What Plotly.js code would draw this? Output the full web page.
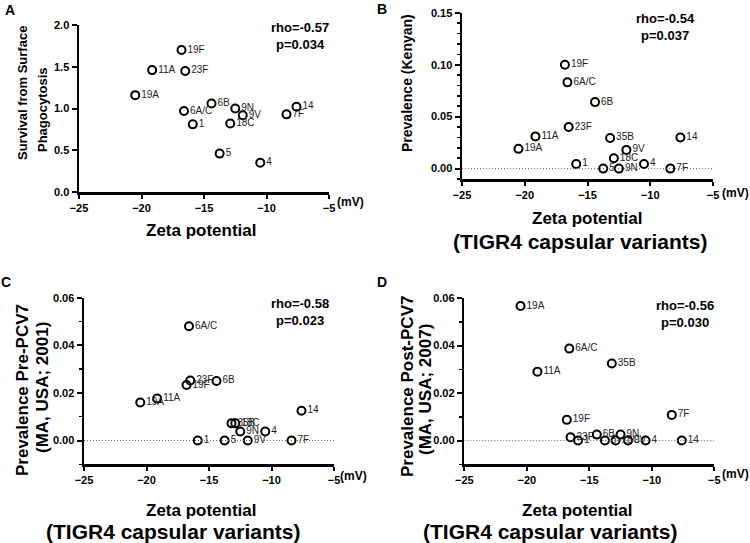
<!DOCTYPE html>
<html>
<head>
<meta charset="utf-8">
<script src="https://cdn.plot.ly/plotly-3.0.1.min.js"></script>
<style>
  body { margin: 0; background: #fff; }
  #chart { width: 750px; height: 543px; }
</style>
</head>
<body>
<div id="chart"></div>
<script>
// serotypes and their zeta potential (mV), same for all panels
const serotypes = ['1', '4', '5', '6A/C', '6B', '7F', '9N', '9V', '11A', '14', '18C', '19A', '19F', '23F', '35B'];
const zeta = [-15.9, -10.5, -13.75, -16.6, -14.4, -8.4, -12.5, -11.9, -19.15, -7.6, -12.9, -20.5, -16.8, -16.5, -13.2];

// panel values, aligned with serotypes (null = not shown)
const survival = [0.81, 0.35, 0.46, 0.97, 1.06, 0.93, 1.0, 0.92, 1.46, 1.02, 0.82, 1.16, 1.70, 1.45, null];
const kenyan = [0.0045, 0.0045, 0, 0.083, 0.064, 0, 0, 0.018, 0.031, 0.030, 0.010, 0.019, 0.100, 0.040, 0.0295];
const prePCV7 = [0, 0.0038, 0, 0.048, 0.025, 0, 0.0038, 0, 0.0176, 0.0125, 0.0072, 0.016, 0.0233, 0.0252, 0.0072];
const postPCV7 = [0, 0, 0, 0.0387, 0.0025, 0.0108, 0.0025, 0, 0.029, 0, 0, 0.0566, 0.0087, 0.0014, 0.0324];

const rhoTexts = ['rho=-0.57<br>p=0.034', 'rho=-0.54<br>p=0.037', 'rho=-0.58<br>p=0.023', 'rho=-0.56<br>p=0.030'];

const FONT = 'Liberation Sans, Arial, sans-serif';
const W = 750, H = 543;
const px = v => v / W;
const py = v => 1 - v / H;
const bold = size => ({ family: FONT, size: size, weight: 'bold', color: '#000' });

function makeTrace(values, ax) {
    const x = [], y = [], t = [];
    serotypes.forEach((s, i) => {
        if (values[i] === null) return;
        x.push(zeta[i]);
        y.push(values[i]);
        t.push(s);
    });
    return {
        x: x, y: y, text: t,
        xaxis: 'x' + ax, yaxis: 'y' + ax,
        type: 'scatter',
        mode: 'markers+text',
        textposition: 'middle right',
        textfont: { family: FONT, size: 10, color: '#222' },
        marker: { symbol: 'circle-open', size: 8, color: '#000', line: { width: 2, color: '#000' } },
        cliponaxis: false,
        hoverinfo: 'skip'
    };
}

const data = [
    makeTrace(survival, ''),
    makeTrace(kenyan, '2'),
    makeTrace(prePCV7, '3'),
    makeTrace(postPCV7, '4')
];

function xAxis(domain, anchor) {
    return {
        domain: domain, anchor: anchor,
        range: [-25, -5], dtick: 5, tick0: -25,
        showgrid: false, zeroline: false,
        showline: true, linewidth: 2.5, linecolor: '#000',
        ticks: 'outside', ticklen: 4, tickwidth: 2, tickcolor: '#000',
        tickfont: bold(11)
    };
}

function yAxis(domain, anchor, range, dtick, fmt, minor) {
    const a = {
        domain: domain, anchor: anchor,
        range: range, dtick: dtick, tick0: 0, tickformat: fmt,
        showgrid: false, zeroline: false,
        showline: true, linewidth: 2.5, linecolor: '#000',
        ticks: 'outside', ticklen: 5, tickwidth: 2, tickcolor: '#000',
        tickfont: bold(11)
    };
    if (minor) {
        a.minor = { dtick: minor, ticks: 'outside', ticklen: 3, tickwidth: 1.5, tickcolor: '#000' };
    }
    return a;
}

const dotted = ax => ({
    type: 'line', xref: 'x' + ax, yref: 'y' + ax,
    x0: -25, x1: -5, y0: 0, y1: 0,
    line: { color: '#666', width: 1, dash: '1px,2px' }
});

const ann = (x, y, text, font, opts) => Object.assign({
    xref: 'paper', yref: 'paper', x: px(x), y: py(y), text: text,
    showarrow: false, xanchor: 'center', yanchor: 'middle',
    font: font
}, opts || {});

const rot = { textangle: -90 };
const left = { xanchor: 'left' };

const annotations = [
    // panel letters
    ann(10, 10, 'A', bold(14)),
    ann(382, 9, 'B', bold(14)),
    ann(6, 282, 'C', bold(14)),
    ann(382, 282, 'D', bold(14)),
    // correlation text
    ann(300, 36, rhoTexts[0], bold(13)),
    ann(665, 27, rhoTexts[1], bold(13)),
    ann(300, 312, rhoTexts[2], bold(13)),
    ann(685, 314, rhoTexts[3], bold(13)),
    // (mV) unit
    ann(335, 202, '(mV)', bold(12), left),
    ann(720, 193, '(mV)', bold(12), left),
    ann(338, 476, '(mV)', bold(12), left),
    ann(720, 474, '(mV)', bold(12), left),
    // x titles
    ann(202, 230, 'Zeta potential', bold(17)),
    ann(587, 218, 'Zeta potential', bold(17)),
    ann(580, 241, '(TIGR4 capsular variants)', bold(21)),
    ann(202, 510, 'Zeta potential', bold(17)),
    ann(173, 531, '(TIGR4 capsular variants)', bold(21)),
    ann(577, 510, 'Zeta potential', bold(17)),
    ann(550, 531, '(TIGR4 capsular variants)', bold(21)),
    // y titles
    ann(22, 93, 'Survival from Surface', bold(13), rot),
    ann(42, 110, 'Phagocytosis', bold(13), rot),
    ann(407, 83, 'Prevalence (Kenyan)', bold(14), rot),
    ann(22, 390, 'Prevalence Pre-PCV7', bold(17), rot),
    ann(42, 388, '(MA, USA; 2001)', bold(17), rot),
    ann(407, 387, 'Prevalence Post-PCV7', bold(17), rot),
    ann(426, 389, '(MA, USA; 2007)', bold(17), rot)
];

const layout = {
    width: W, height: H,
    margin: { l: 0, r: 0, t: 0, b: 0 },
    paper_bgcolor: '#fff', plot_bgcolor: '#fff',
    showlegend: false,
    xaxis: xAxis([px(79), px(329)], 'y'),
    yaxis: yAxis([py(192), py(25)], 'x', [0, 2.0], 0.5, '.1f'),
    xaxis2: xAxis([px(462), px(713)], 'y2'),
    yaxis2: yAxis([py(179), py(12.7)], 'x2', [-0.01, 0.15], 0.05, '.2f', 0.01),
    xaxis3: xAxis([px(84), px(334)], 'y3'),
    yaxis3: yAxis([py(464.3), py(297.7)], 'x3', [-0.01, 0.06], 0.02, '.2f', 0.01),
    xaxis4: xAxis([px(464.3), px(714.3)], 'y4'),
    yaxis4: yAxis([py(464.3), py(298)], 'x4', [-0.01, 0.06], 0.02, '.2f', 0.01),
    shapes: [dotted('2'), dotted('3'), dotted('4')],
    annotations: annotations
};

Plotly.newPlot('chart', data, layout, { staticPlot: true });
</script>
</body>
</html>
